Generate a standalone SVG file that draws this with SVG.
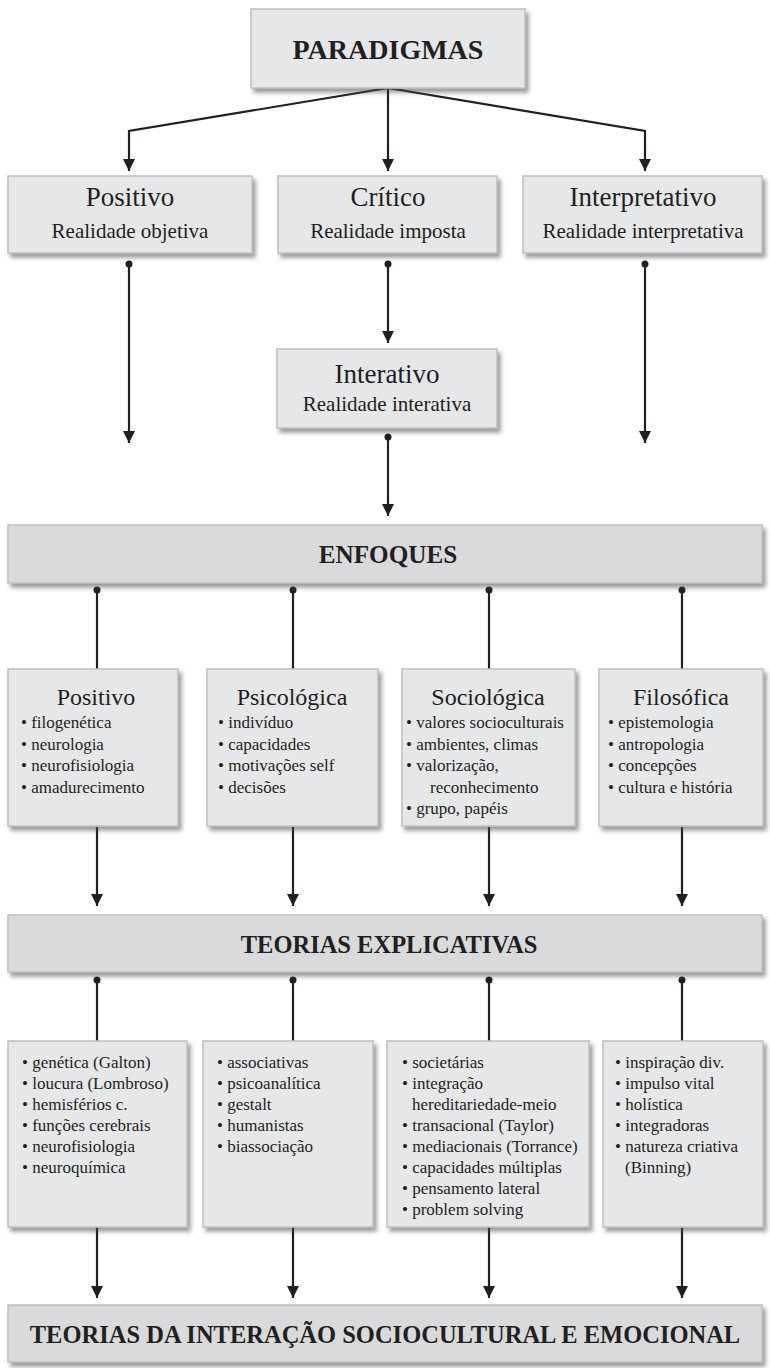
<svg xmlns="http://www.w3.org/2000/svg" width="770" height="1368" viewBox="0 0 770 1368" font-family="'Liberation Serif', 'DejaVu Serif', serif">
  <defs>
    <filter id="shadow" x="-10%" y="-10%" width="125%" height="130%">
      <feDropShadow dx="3" dy="4" stdDeviation="2" flood-color="#4a4a4a" flood-opacity="0.55"/>
    </filter>
    <marker id="arrow" markerWidth="12" markerHeight="12" refX="12" refY="6" orient="auto" markerUnits="userSpaceOnUse">
      <path d="M0,0 L12,6 L0,12 z" fill="#231f20"/>
    </marker>
  </defs>
  <style>
    .box { fill: #e6e7e8; stroke: #bfbfbf; stroke-width: 1.5; filter: url(#shadow); }
    .bar { fill: #d9dadb; stroke: #bfbfbf; stroke-width: 1.5; filter: url(#shadow); }
    text { font-family: 'Liberation Serif', 'DejaVu Serif', serif; fill: #231f20; }
    .head { font-size: 24.5px; font-weight: bold; text-anchor: middle; }
    .big { font-size: 28px; }
    .mid { font-size: 25.2px; }
    .title { font-size: 27px; text-anchor: middle; }
    .sub { font-size: 21px; text-anchor: middle; }
    .ttl2 { font-size: 24px; text-anchor: middle; }
    .item { font-size: 17px; }
    .link { fill: none; stroke: #231f20; stroke-width: 2.2; }
    .arr { marker-end: url(#arrow); }
    .dot { fill: #231f20; }
  </style>

  <!-- connectors -->
  <g id="connectors">
    <polyline class="link arr" points="388,88 129,131 129,171"/>
    <line class="link arr" x1="388" y1="88" x2="388" y2="171"/>
    <polyline class="link arr" points="388,88 645,131 645,171"/>

    <circle class="dot" cx="129" cy="264" r="3.5"/>
    <line class="link arr" x1="129" y1="264" x2="129" y2="443"/>
    <circle class="dot" cx="388" cy="264" r="3.5"/>
    <line class="link arr" x1="388" y1="264" x2="388" y2="343"/>
    <circle class="dot" cx="645" cy="264" r="3.5"/>
    <line class="link arr" x1="645" y1="264" x2="645" y2="443"/>

    <circle class="dot" cx="388" cy="437" r="3.5"/>
    <line class="link arr" x1="388" y1="437" x2="388" y2="516"/>

    <circle class="dot" cx="97" cy="590" r="3.5"/>
    <line class="link" x1="97" y1="590" x2="97" y2="669"/>
    <circle class="dot" cx="293" cy="590" r="3.5"/>
    <line class="link" x1="293" y1="590" x2="293" y2="669"/>
    <circle class="dot" cx="489" cy="590" r="3.5"/>
    <line class="link" x1="489" y1="590" x2="489" y2="669"/>
    <circle class="dot" cx="682" cy="590" r="3.5"/>
    <line class="link" x1="682" y1="590" x2="682" y2="669"/>

    <line class="link arr" x1="97" y1="827" x2="97" y2="906"/>
    <line class="link arr" x1="293" y1="827" x2="293" y2="906"/>
    <line class="link arr" x1="489" y1="827" x2="489" y2="906"/>
    <line class="link arr" x1="682" y1="827" x2="682" y2="906"/>

    <circle class="dot" cx="97" cy="980" r="3.5"/>
    <line class="link" x1="97" y1="980" x2="97" y2="1041"/>
    <circle class="dot" cx="293" cy="980" r="3.5"/>
    <line class="link" x1="293" y1="980" x2="293" y2="1041"/>
    <circle class="dot" cx="489" cy="980" r="3.5"/>
    <line class="link" x1="489" y1="980" x2="489" y2="1041"/>
    <circle class="dot" cx="682" cy="980" r="3.5"/>
    <line class="link" x1="682" y1="980" x2="682" y2="1041"/>

    <line class="link arr" x1="97" y1="1227" x2="97" y2="1298"/>
    <line class="link arr" x1="293" y1="1227" x2="293" y2="1298"/>
    <line class="link arr" x1="489" y1="1227" x2="489" y2="1298"/>
    <line class="link arr" x1="682" y1="1227" x2="682" y2="1298"/>
  </g>

  <!-- top level -->
  <g id="paradigmas">
    <rect class="box" x="251" y="9" width="274" height="79"/>
    <text class="head big" x="388" y="59">PARADIGMAS</text>
  </g>

  <!-- paradigm boxes -->
  <g id="positivo">
    <rect class="box" x="8" y="176" width="244" height="77"/>
    <text class="title" x="130" y="206">Positivo</text>
    <text class="sub" x="130" y="238">Realidade objetiva</text>
  </g>
  <g id="critico">
    <rect class="box" x="278" y="176" width="219" height="77"/>
    <text class="title" x="388" y="206">Crítico</text>
    <text class="sub" x="388" y="238">Realidade imposta</text>
  </g>
  <g id="interpretativo">
    <rect class="box" x="523" y="176" width="239" height="77"/>
    <text class="title" x="643" y="206">Interpretativo</text>
    <text class="sub" x="643" y="238">Realidade interpretativa</text>
  </g>
  <g id="interativo">
    <rect class="box" x="277" y="349" width="220" height="79"/>
    <text class="title" x="387" y="383">Interativo</text>
    <text class="sub" x="387" y="411">Realidade interativa</text>
  </g>

  <!-- ENFOQUES -->
  <g id="enfoques">
    <rect class="bar" x="8" y="525" width="754" height="58"/>
    <text class="head mid" x="388" y="563">ENFOQUES</text>
  </g>

  <g id="enfoque-positivo">
    <rect class="box" x="8" y="669" width="170" height="157"/>
    <text class="ttl2" x="96" y="705">Positivo</text>
    <text class="item" x="21" y="728">• filogenética</text>
    <text class="item" x="21" y="749.5">• neurologia</text>
    <text class="item" x="21" y="771">• neurofisiologia</text>
    <text class="item" x="21" y="792.5">• amadurecimento</text>
  </g>
  <g id="enfoque-psicologica">
    <rect class="box" x="207" y="669" width="171" height="157"/>
    <text class="ttl2" x="292" y="705">Psicológica</text>
    <text class="item" x="218" y="728">• indivíduo</text>
    <text class="item" x="218" y="749.5">• capacidades</text>
    <text class="item" x="218" y="771">• motivações self</text>
    <text class="item" x="218" y="792.5">• decisões</text>
  </g>
  <g id="enfoque-sociologica">
    <rect class="box" x="402" y="669" width="173" height="157"/>
    <text class="ttl2" x="488" y="705">Sociológica</text>
    <text class="item" x="406" y="728">• valores socioculturais</text>
    <text class="item" x="406" y="749.5">• ambientes, climas</text>
    <text class="item" x="406" y="771">• valorização,</text>
    <text class="item" x="430" y="792.5">reconhecimento</text>
    <text class="item" x="406" y="814">• grupo, papéis</text>
  </g>
  <g id="enfoque-filosofica">
    <rect class="box" x="599" y="669" width="164" height="157"/>
    <text class="ttl2" x="681" y="705">Filosófica</text>
    <text class="item" x="608" y="728">• epistemologia</text>
    <text class="item" x="608" y="749.5">• antropologia</text>
    <text class="item" x="608" y="771">• concepções</text>
    <text class="item" x="608" y="792.5">• cultura e história</text>
  </g>

  <!-- TEORIAS EXPLICATIVAS -->
  <g id="teorias-explicativas">
    <rect class="bar" x="8" y="915" width="754" height="57"/>
    <text class="head" x="389" y="953">TEORIAS EXPLICATIVAS</text>
  </g>

  <g id="teorias-biologicas">
    <rect class="box" x="8" y="1041" width="179" height="186"/>
    <text class="item" x="22" y="1068">• genética (Galton)</text>
    <text class="item" x="22" y="1089">• loucura (Lombroso)</text>
    <text class="item" x="22" y="1110">• hemisférios c.</text>
    <text class="item" x="22" y="1131">• funções cerebrais</text>
    <text class="item" x="22" y="1152">• neurofisiologia</text>
    <text class="item" x="22" y="1173">• neuroquímica</text>
  </g>
  <g id="teorias-psicologicas">
    <rect class="box" x="203" y="1041" width="170" height="186"/>
    <text class="item" x="217" y="1068">• associativas</text>
    <text class="item" x="217" y="1089">• psicoanalítica</text>
    <text class="item" x="217" y="1110">• gestalt</text>
    <text class="item" x="217" y="1131">• humanistas</text>
    <text class="item" x="217" y="1152">• biassociação</text>
  </g>
  <g id="teorias-sociologicas">
    <rect class="box" x="387" y="1041" width="202" height="186"/>
    <text class="item" x="402" y="1068">• societárias</text>
    <text class="item" x="402" y="1089">• integração</text>
    <text class="item" x="412" y="1110">hereditariedade-meio</text>
    <text class="item" x="402" y="1131">• transacional (Taylor)</text>
    <text class="item" x="402" y="1152">• mediacionais (Torrance)</text>
    <text class="item" x="402" y="1173">• capacidades múltiplas</text>
    <text class="item" x="402" y="1194">• pensamento lateral</text>
    <text class="item" x="402" y="1215">• problem solving</text>
  </g>
  <g id="teorias-filosoficas">
    <rect class="box" x="603" y="1041" width="160" height="186"/>
    <text class="item" x="615" y="1068">• inspiração div.</text>
    <text class="item" x="615" y="1089">• impulso vital</text>
    <text class="item" x="615" y="1110">• holística</text>
    <text class="item" x="615" y="1131">• integradoras</text>
    <text class="item" x="615" y="1152">• natureza criativa</text>
    <text class="item" x="625" y="1173">(Binning)</text>
  </g>

  <!-- bottom bar -->
  <g id="teorias-interacao">
    <rect class="bar" x="8" y="1305" width="754" height="57"/>
    <text class="head" x="385" y="1343">TEORIAS DA INTERAÇÃO SOCIOCULTURAL E EMOCIONAL</text>
  </g>
</svg>
